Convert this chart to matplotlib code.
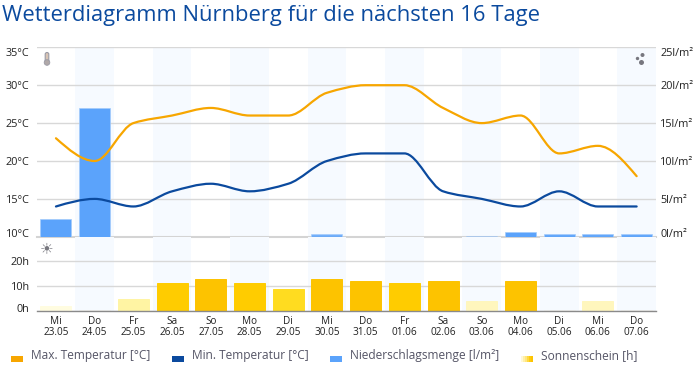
import matplotlib
matplotlib.use("Agg")
import matplotlib.pyplot as plt
from matplotlib.path import Path
from matplotlib.patches import PathPatch, Rectangle, Circle, FancyBboxPatch
from matplotlib.transforms import IdentityTransform, ScaledTranslation
import numpy as np

plt.rcParams['font.family'] = ['Open Sans', 'DejaVu Sans']

days = ["Mi", "Do", "Fr", "Sa", "So", "Mo", "Di", "Mi", "Do", "Fr", "Sa", "So", "Mo", "Di", "Mi", "Do"]
dates = ["23.05", "24.05", "25.05", "26.05", "27.05", "28.05", "29.05", "30.05",
         "31.05", "01.06", "02.06", "03.06", "04.06", "05.06", "06.06", "07.06"]
temp_max = [23, 20, 25, 26, 27, 26, 26, 29, 30, 30, 27, 25, 26, 21, 22, 18]
temp_min = [14, 15, 14, 16, 17, 16, 17, 20, 21, 21, 16, 15, 14, 16, 14, 14]
rain = [2.3, 17, 0, 0, 0, 0, 0, 0.35, 0, 0, 0, 0.15, 0.6, 0.35, 0.35, 0.35]
rain_alpha = [1, 1, 1, 1, 1, 1, 1, 0.85, 1, 1, 1, 0.55, 1, 0.95, 0.95, 0.95]
sun = [1.8, 0.4, 4.8, 10.9, 12.8, 10.9, 8.8, 12.8, 11.8, 10.9, 11.8, 4, 11.8, 0.4, 4, 0.4]
sun_colors = ["#fffce0", "#f0f0ee", "#fff4a3", "#ffcc00", "#fdc300", "#ffcc00", "#ffdc20", "#fdc300",
              "#fdc300", "#ffcc00", "#fdc300", "#fff6bd", "#fdc300", "#f0f0ee", "#fff6bd", "#f0f0ee"]

W, H = 698, 369
LEFT, RIGHT = 36.6, 656
BLUE = "#0b4a9e"
ORANGE = "#f7a600"
RAINC = "#5ba3fb"
GRID = "#d8d8d8"
TICKC = "#222222"
LEGC = "#555566"
x = np.arange(len(days))


def box(top, bottom):
    return [LEFT / W, 1 - bottom / H, (RIGHT - LEFT) / W, (bottom - top) / H]


def spline(xs, ys):
    # monotone Kurve durch die Tageswerte (harmonisches Mittel der Steigungen)
    n = len(xs)
    sec = [(ys[i + 1] - ys[i]) / (xs[i + 1] - xs[i]) for i in range(n - 1)]
    slope = [0.0] * n
    for i in range(1, n - 1):
        if sec[i - 1] * sec[i] > 0:
            slope[i] = 2 * sec[i - 1] * sec[i] / (sec[i - 1] + sec[i])
    slope[0] = (3 * sec[0] - slope[1]) / 2
    slope[-1] = (3 * sec[-1] - slope[-2]) / 2
    verts = [(xs[0], ys[0])]
    codes = [Path.MOVETO]
    for i in range(n - 1):
        dx = xs[i + 1] - xs[i]
        verts.append((xs[i] + dx / 3, ys[i] + slope[i] * dx / 3))
        verts.append((xs[i + 1] - dx / 3, ys[i + 1] - slope[i + 1] * dx / 3))
        verts.append((xs[i + 1], ys[i + 1]))
        codes += [Path.CURVE4, Path.CURVE4, Path.CURVE4]
    return Path(verts, codes)


fig = plt.figure(figsize=(W / 100, H / 100), dpi=100)

# oberes Feld: Niederschlag unten, Temperatur darueber
ax_rain = fig.add_axes(box(47.3, 236.8))
ax_temp = ax_rain.twinx()
ax_sun = fig.add_axes(box(236.8, 310.5))

for ax in (ax_rain, ax_temp, ax_sun):
    ax.set_xlim(-0.5, len(days) - 0.5)
    for s in ax.spines.values():
        s.set_visible(False)
    ax.patch.set_visible(False)

for i in x[1::2]:
    ax_rain.axvspan(i - 0.5, i + 0.5, color="#f6faff", lw=0, zorder=0)
    ax_sun.axvspan(i - 0.5, i + 0.5, color="#f6faff", lw=0, zorder=0)

ax_rain.set_ylim(0, 25)
ax_rain.set_yticks([0, 5, 10, 15, 20, 25])
ax_rain.set_yticklabels([f"{v}l/m²" for v in [0, 5, 10, 15, 20, 25]])
ax_rain.yaxis.tick_right()
ax_rain.grid(axis="y", color=GRID, lw=1, zorder=1)
ax_rain.set_axisbelow(True)
rain_bars = ax_rain.bar(x, rain, width=0.8, color=RAINC, edgecolor="#a3cbfb", lw=0.5, zorder=3)
for p, a, v in zip(rain_bars, rain_alpha, rain):
    p.set_alpha(a)
    p.set_visible(v > 0)
ax_rain.spines["bottom"].set_visible(True)
ax_rain.spines["bottom"].set_color("#d4d4d4")
ax_rain.spines["bottom"].set_linewidth(1.5)
ax_rain.spines["bottom"].set_zorder(1.5)

ax_temp.set_ylim(10, 35)
ax_temp.set_yticks([10, 15, 20, 25, 30, 35])
ax_temp.set_yticklabels([f"{v}°C" for v in [10, 15, 20, 25, 30, 35]])
ax_temp.yaxis.tick_left()
ax_temp.add_patch(PathPatch(spline(x, temp_max), fc="none", ec=ORANGE, lw=1.6, capstyle="round", zorder=4))
ax_temp.add_patch(PathPatch(spline(x, temp_min), fc="none", ec=BLUE, lw=1.6, capstyle="round", zorder=4))

# unteres Feld: Sonnenschein
ax_sun.set_ylim(0, 29.5)
ax_sun.set_yticks([0, 10, 20])
ax_sun.set_yticklabels(["0h", "10h", "20h"])
ax_sun.grid(axis="y", color=GRID, lw=1, zorder=1)
ax_sun.set_axisbelow(True)
ax_sun.bar(x, sun, width=0.8, color=sun_colors, edgecolor=sun_colors, lw=0.7, zorder=2)
ax_sun.spines["bottom"].set_visible(True)
ax_sun.spines["bottom"].set_color("#8a8a8a")
ax_sun.spines["bottom"].set_linewidth(1)
ax_sun.set_xticks(x)
ax_sun.set_xticklabels([f"{d}\n{t}" for d, t in zip(days, dates)], linespacing=1.05)

ax_rain.set_xticks([])
ax_rain.tick_params(axis="y", length=0, pad=3, labelsize=7.8, labelcolor=TICKC)
ax_temp.tick_params(axis="y", length=0, pad=5, labelsize=7.8, labelcolor=TICKC)
ax_sun.tick_params(axis="y", length=0, pad=5, labelsize=7.8, labelcolor=TICKC)
ax_sun.tick_params(axis="x", length=0, pad=4, labelsize=7.2, labelcolor=TICKC)


# Randbeschriftungen nach innen geschoben
def shift(label, dy):
    label.set_transform(label.get_transform() + ScaledTranslation(0, -dy / 100, fig.dpi_scale_trans))


for ax in (ax_rain, ax_temp):
    labels = ax.get_yticklabels()
    shift(labels[0], -3.7)
    shift(labels[-1], 4.4)
shift(ax_sun.get_yticklabels()[0], -2.8)

fig.text(2 / W, 1 - 15 / H, "Wetterdiagramm Nürnberg für die nächsten 16 Tage",
         color=BLUE, fontsize=15.8, va="center", ha="left")


# Symbole in Pixelkoordinaten
def add_px(artist):
    artist.set_transform(IdentityTransform())
    fig.add_artist(artist)


add_px(FancyBboxPatch((45.2, H - 63), 3.6, 10.5, boxstyle="round,pad=0,rounding_size=1.8",
                      fc="#d8c4b4", ec="#9a9aa5", lw=0.8))
add_px(Circle((47, H - 62.5), 2.8, fc="#b0a8a8", ec="#9a9aa5", lw=0.6))
fig.text(47 / W, 1 - 248.5 / H, "☀", color="#77777f", fontsize=11, ha="center", va="center", family="DejaVu Sans")
for cx, cy, r in [(637.5, 58.5, 1.7), (642.5, 55, 2.0), (641.5, 62.5, 2.5)]:
    add_px(Circle((cx, H - cy), r, fc="#77777f", ec="none"))

# Legende
legend = [(11, 31, ORANGE, "Max. Temperatur [°C]"),
          (172, 192, BLUE, "Min. Temperatur [°C]"),
          (330, 350, RAINC, "Niederschlagsmenge [l/m²]")]
for hx, tx, c, t in legend:
    add_px(Rectangle((hx, H - 361.7), 12, 5.7, fc=c, ec="none"))
    fig.text(tx / W, 1 - 356 / H, t, color=LEGC, fontsize=8.6, va="center", ha="left")
grad_colors = ["#fff8d8", "#fff0a8", "#ffe680", "#ffd940", "#fdcb10", "#fdc300"]
for k, c in enumerate(grad_colors):
    add_px(Rectangle((521 + k * 2, H - 361.7), 2.2, 5.7, fc=c, ec="none"))
fig.text(541 / W, 1 - 356 / H, "Sonnenschein [h]", color=LEGC, fontsize=8.6, va="center", ha="left")

fig.savefig("out.png", dpi=100)
